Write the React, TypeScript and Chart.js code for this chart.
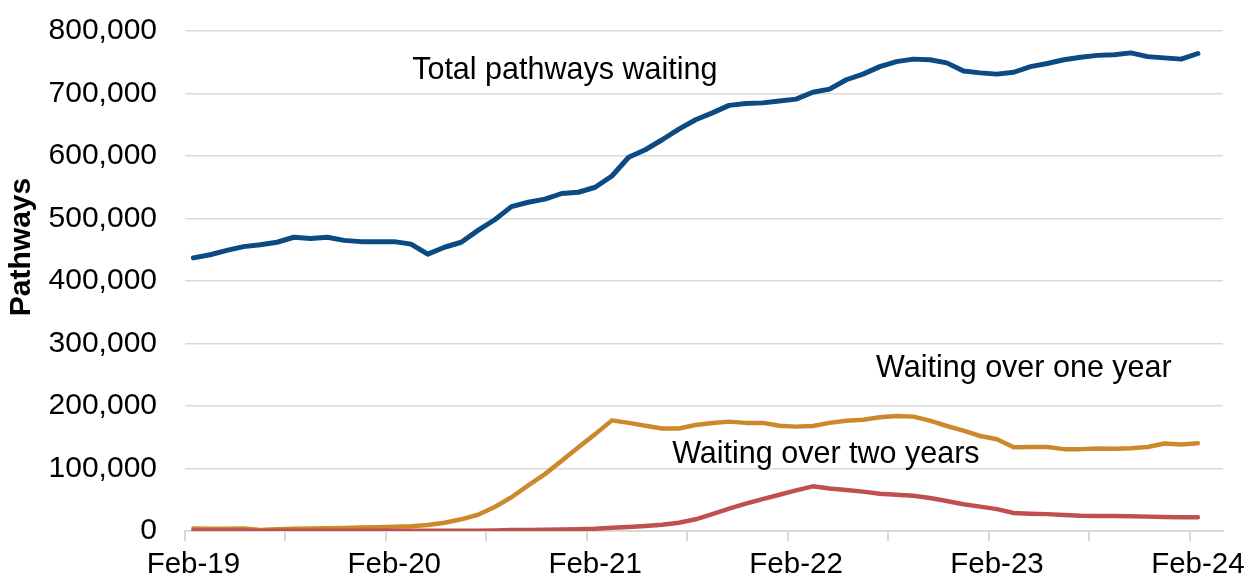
import React, { useEffect, useRef } from 'react';
import { Chart, registerables } from 'chart.js';

Chart.register(...registerables);

const FONT = 'Liberation Sans, Arial, sans-serif';

const months = [
  'Feb-19', 'Mar-19', 'Apr-19', 'May-19', 'Jun-19', 'Jul-19', 'Aug-19', 'Sep-19', 'Oct-19', 'Nov-19', 'Dec-19', 'Jan-20',
  'Feb-20', 'Mar-20', 'Apr-20', 'May-20', 'Jun-20', 'Jul-20', 'Aug-20', 'Sep-20', 'Oct-20', 'Nov-20', 'Dec-20', 'Jan-21',
  'Feb-21', 'Mar-21', 'Apr-21', 'May-21', 'Jun-21', 'Jul-21', 'Aug-21', 'Sep-21', 'Oct-21', 'Nov-21', 'Dec-21', 'Jan-22',
  'Feb-22', 'Mar-22', 'Apr-22', 'May-22', 'Jun-22', 'Jul-22', 'Aug-22', 'Sep-22', 'Oct-22', 'Nov-22', 'Dec-22', 'Jan-23',
  'Feb-23', 'Mar-23', 'Apr-23', 'May-23', 'Jun-23', 'Jul-23', 'Aug-23', 'Sep-23', 'Oct-23', 'Nov-23', 'Dec-23', 'Jan-24',
  'Feb-24',
];

const totalWaiting = [
  437000, 442000, 449000, 455000, 458000, 462000, 470000, 468000, 470000, 465000, 463000, 463000,
  463000, 459000, 443000, 454000, 462000, 481000, 498000, 519000, 526000, 531000, 540000, 542000,
  550000, 568000, 598000, 610000, 626000, 643000, 658000, 669000, 681000, 684000, 685000, 688000,
  691000, 702000, 707000, 722000, 731000, 743000, 751000, 755000, 754000, 749000, 736000, 733000,
  731000, 734000, 743000, 748000, 754000, 758000, 761000, 762000, 765000, 759000, 757000, 755000,
  764000,
];

const overOneYear = [
  4000, 3500, 3500, 4000, 1500, 3000, 3500, 4000, 4500, 5000, 5500, 6000,
  7000, 7500, 9600, 13300, 18700, 26000, 38400, 54000, 73000, 91000, 112500, 134000,
  155000, 177000, 173000, 168500, 164000, 164000, 169500, 172800, 175000, 173000, 173000, 168500,
  167000, 168000, 173000, 176500, 178000, 182000, 184000, 183000, 176500, 168000, 160500, 152000,
  146700, 134000, 134500, 134500, 131000, 131000, 132000, 131500, 132500, 134500, 140000, 138500,
  140500,
];

const overTwoYears = [
  1000, 1000, 1000, 1000, 0, 500, 500, 500, 500, 500, 500, 500,
  500, 500, 500, 500, 500, 500, 1000, 1500, 1500, 2000, 2500, 3000,
  3700, 5300, 6400, 8000, 10000, 13300, 18700, 27000, 35700, 43700, 51000, 58000,
  65000, 71500, 68000, 65500, 63000, 59700, 58000, 56500, 52800, 48000, 42700, 39000,
  35000, 28800, 27700, 27000, 25600, 24500, 24000, 24000, 23500, 23000, 22400, 21900,
  21900,
];

const xTickLabels = ['Feb-19', 'Feb-20', 'Feb-21', 'Feb-22', 'Feb-23', 'Feb-24'];
const yTicks = [0, 100000, 200000, 300000, 400000, 500000, 600000, 700000, 800000];

const seriesNames = ['Total pathways waiting', 'Waiting over one year', 'Waiting over two years'];

export default function App() {
  const ref = useRef<HTMLCanvasElement>(null);

  useEffect(() => {
    if (!ref.current) return;
    const labelPositions = xTickLabels.map((l) => months.indexOf(l));
    const tickMarkValues: number[] = [];
    for (let v = -0.5; v < months.length; v += 6) tickMarkValues.push(v);
    const allTicks = Array.from(new Set([...tickMarkValues, ...labelPositions, months.length + 0.5])).sort((a, b) => a - b);

    const toPoints = (arr: number[]) => arr.map((v, i) => ({ x: i, y: v }));

    const annotations = [
      { text: seriesNames[0], x: 13.07, y: 723000 },
      { text: seriesNames[1], x: 40.78, y: 247000 },
      { text: seriesNames[2], x: 28.6, y: 109000 },
    ];

    const textPlugin = {
      id: 'textPlugin',
      afterDatasetsDraw(chart: any) {
        const { ctx, scales } = chart;
        ctx.save();
        ctx.fillStyle = '#000';
        ctx.font = `30.5px ${FONT}`;
        ctx.textAlign = 'left';
        ctx.textBaseline = 'alphabetic';
        annotations.forEach((a) => {
          ctx.fillText(a.text, scales.x.getPixelForValue(a.x), scales.y.getPixelForValue(a.y));
        });
        ctx.translate(22, 247);
        ctx.rotate(-Math.PI / 2);
        ctx.textAlign = 'center';
        ctx.textBaseline = 'middle';
        ctx.font = `bold 30px ${FONT}`;
        ctx.fillText('Pathways', 0, 0);
        ctx.restore();
      },
    };

    const tickColor = (c: any) =>
      c.tick && tickMarkValues.includes(c.tick.value) ? '#d9d9d9' : 'rgba(0,0,0,0)';

    const chart = new Chart(ref.current, {
      type: 'line',
      data: {
        datasets: [
          {
            label: seriesNames[0],
            data: toPoints(totalWaiting),
            borderColor: '#0b4a82',
            borderWidth: 5,
            pointRadius: 0,
            tension: 0,
            borderJoinStyle: 'round',
            borderCapStyle: 'round',
            order: 2,
          },
          {
            label: seriesNames[1],
            data: toPoints(overOneYear),
            borderColor: '#cc892c',
            borderWidth: 4.5,
            pointRadius: 0,
            tension: 0,
            borderJoinStyle: 'round',
            borderCapStyle: 'round',
            order: 1,
          },
          {
            label: seriesNames[2],
            data: toPoints(overTwoYears),
            borderColor: '#c0504d',
            borderWidth: 4.5,
            pointRadius: 0,
            tension: 0,
            borderJoinStyle: 'round',
            borderCapStyle: 'round',
            order: 0,
          },
        ],
      },
      options: {
        animation: false,
        responsive: true,
        maintainAspectRatio: false,
        layout: { padding: { top: 31, right: 25, left: 0, bottom: 0 } },
        plugins: { legend: { display: false }, tooltip: { enabled: false } },
        scales: {
          x: {
            type: 'linear',
            min: -0.5,
            max: months.length + 0.5,
            afterBuildTicks: (s: any) => {
              s.ticks = allTicks.map((v) => ({ value: v }));
            },
            afterFit: (s: any) => {
              s.height = 50;
            },
            ticks: {
              autoSkip: false,
              maxRotation: 0,
              minRotation: 0,
              padding: 6,
              color: '#000',
              font: { family: FONT, size: 29.5 },
              callback: (v: any) => {
                const k = labelPositions.indexOf(Number(v));
                return k >= 0 ? xTickLabels[k] : '';
              },
            },
            grid: {
              drawOnChartArea: false,
              drawTicks: true,
              tickLength: 10,
              lineWidth: 2,
              color: tickColor,
              tickColor: tickColor,
            },
            border: { display: true, color: '#d9d9d9', width: 2 },
          },
          y: {
            type: 'linear',
            min: 0,
            max: 800000,
            afterBuildTicks: (s: any) => {
              s.ticks = yTicks.map((v) => ({ value: v }));
            },
            afterFit: (s: any) => {
              s.width = 185;
            },
            ticks: {
              padding: 3,
              color: '#000',
              font: { family: FONT, size: 30 },
              callback: (v: any) => Number(v).toLocaleString('en-US'),
            },
            grid: {
              color: '#d9d9d9',
              lineWidth: 1.5,
              drawTicks: true,
              tickLength: 25,
              tickColor: 'rgba(0,0,0,0)',
            },
            border: { display: false },
          },
        },
      },
      plugins: [textPlugin],
    } as any);

    return () => chart.destroy();
  }, []);

  return (
    <div style={{ position: 'fixed', left: 0, top: 0, width: 1248, height: 581, background: '#fff' }}>
      <canvas ref={ref} />
    </div>
  );
}
